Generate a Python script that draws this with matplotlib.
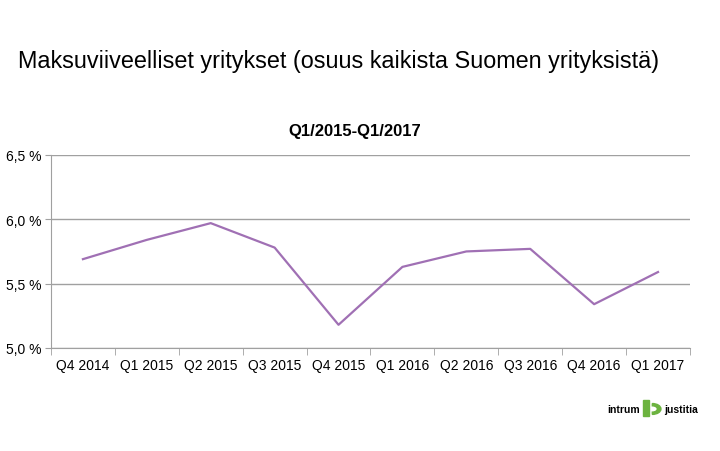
import numpy as np
import matplotlib.pyplot as plt
from matplotlib.patches import Rectangle, Wedge

plt.rcParams['font.family'] = ['Liberation Sans', 'DejaVu Sans']

quarters = ['Q4 2014', 'Q1 2015', 'Q2 2015', 'Q3 2015', 'Q4 2015',
            'Q1 2016', 'Q2 2016', 'Q3 2016', 'Q4 2016', 'Q1 2017']
share = [5.69, 5.84, 5.97, 5.78, 5.18, 5.63, 5.75, 5.77, 5.34, 5.59]
yticks = [5.0, 5.5, 6.0, 6.5]

fig = plt.figure(figsize=(7.2, 4.52), dpi=100)
ax = fig.add_axes([0.0708, 0.228, 0.8875, 0.427])

x = np.arange(len(quarters))
ax.plot(x, share, color='#A070B4', lw=1.6)

ax.set_xlim(-0.5, len(quarters) - 0.5)
ax.set_ylim(5.0, 6.5)
ax.set_yticks(yticks)
ax.set_yticklabels([f'{v:.1f} %'.replace('.', ',') for v in yticks], fontsize=10)
ax.set_xticks(x)
ax.set_xticklabels(quarters, fontsize=10)
ax.tick_params(axis='x', length=0, pad=7)
ax.set_xticks(np.arange(-0.5, len(quarters)), minor=True)
ax.tick_params(axis='x', which='minor', length=5, color='#A0A0A0', direction='out')
ax.tick_params(axis='y', length=4, color='#A0A0A0', pad=3)
ax.grid(axis='y', color='#A0A0A0', lw=1)
ax.set_axisbelow(True)
for s in ['top', 'right']:
    ax.spines[s].set_visible(False)
for s in ['left', 'bottom']:
    ax.spines[s].set_color('#A0A0A0')

fig.text(0.493, 0.71, 'Q1/2015-Q1/2017', fontsize=12, fontweight='bold',
         ha='center', va='center')

fig.text(0.025, 0.865, 'Maksuviiveelliset yritykset (osuus kaikista Suomen yrityksistä)',
         fontsize=16.8, va='center')

# logo
fig.text(0.889, 0.093, 'intrum', fontsize=7.5, fontweight='bold', ha='right', va='center')
fig.text(0.922, 0.093, 'justitia', fontsize=7.5, fontweight='bold', ha='left', va='center')
fig.patches.append(Wedge((0.906, 0.093), 0.012, -90, 90, width=0.005,
                         transform=fig.transFigure, color='#6CB33F'))
fig.patches.append(Rectangle((0.893, 0.078), 0.009, 0.035, transform=fig.transFigure,
                             color='#6CB33F'))

fig.savefig('out.png', dpi=100)
